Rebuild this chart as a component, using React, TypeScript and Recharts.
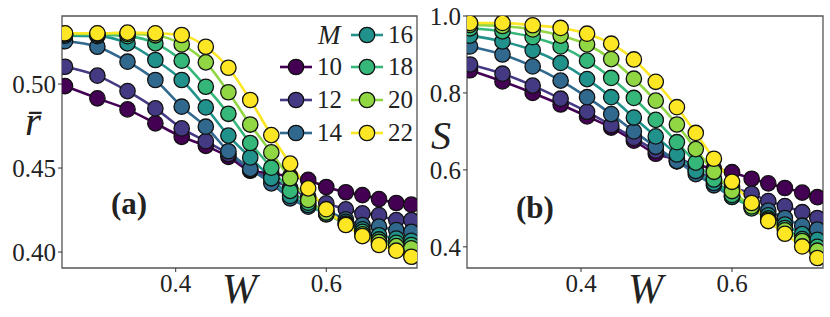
import React from 'react';
import { LineChart, Line, XAxis, YAxis, ReferenceArea } from 'recharts';

// disorder strength W (shared by both panels)
const wValues = [0.253, 0.296, 0.336, 0.373, 0.408, 0.44, 0.47, 0.499, 0.527, 0.552, 0.576, 0.6, 0.626, 0.648, 0.67, 0.693, 0.713];

const mLabels = ['10', '12', '14', '16', '18', '20', '22'];
const colors = ['#440154', '#443983', '#31688e', '#21918c', '#35b779', '#90d743', '#fde725'];

// panel (a): mean gap ratio r-bar
const r10 = [0.4988, 0.4915, 0.4849, 0.4766, 0.4686, 0.4632, 0.4567, 0.4484, 0.4468, 0.445, 0.4429, 0.4387, 0.4356, 0.4339, 0.4315, 0.4292, 0.4282];
const r12 = [0.5103, 0.505, 0.4958, 0.4855, 0.4736, 0.466, 0.4583, 0.4488, 0.4435, 0.438, 0.433, 0.429, 0.4254, 0.423, 0.422, 0.419, 0.419];
const r14 = [0.5255, 0.5222, 0.5133, 0.5024, 0.4865, 0.4746, 0.46, 0.4495, 0.4409, 0.432, 0.427, 0.4245, 0.4195, 0.4161, 0.4151, 0.4131, 0.412];
const r16 = [0.5288, 0.5285, 0.5242, 0.5143, 0.5024, 0.4861, 0.4693, 0.4563, 0.4439, 0.4334, 0.428, 0.4225, 0.418, 0.4135, 0.41, 0.408, 0.4067];
const r18 = [0.5295, 0.5293, 0.5285, 0.5242, 0.5139, 0.4984, 0.4823, 0.4649, 0.4502, 0.4364, 0.4294, 0.4225, 0.417, 0.412, 0.4075, 0.4055, 0.4042];
const r20 = [0.53, 0.53, 0.5298, 0.529, 0.5236, 0.5129, 0.4951, 0.4759, 0.4593, 0.4439, 0.431, 0.4235, 0.4165, 0.4105, 0.406, 0.4035, 0.4022];
const r22 = [0.5302, 0.5302, 0.5306, 0.5302, 0.5292, 0.5222, 0.5097, 0.4905, 0.4696, 0.4526, 0.4379, 0.4255, 0.4161, 0.4095, 0.4042, 0.4008, 0.3972];

// panel (b): S
const s10 = [0.859, 0.83, 0.8, 0.77, 0.739, 0.71, 0.676, 0.642, 0.628, 0.614, 0.603, 0.594, 0.577, 0.565, 0.553, 0.541, 0.529];
const s12 = [0.874, 0.85, 0.819, 0.785, 0.751, 0.716, 0.683, 0.65, 0.622, 0.598, 0.576, 0.556, 0.538, 0.519, 0.506, 0.49, 0.475];
const s14 = [0.921, 0.9, 0.869, 0.832, 0.789, 0.745, 0.7, 0.66, 0.623, 0.589, 0.56, 0.53, 0.51, 0.494, 0.475, 0.455, 0.445];
const s16 = [0.949, 0.934, 0.911, 0.878, 0.836, 0.789, 0.736, 0.687, 0.64, 0.597, 0.566, 0.53, 0.505, 0.482, 0.458, 0.433, 0.418];
const s18 = [0.968, 0.96, 0.945, 0.921, 0.884, 0.839, 0.787, 0.73, 0.672, 0.619, 0.575, 0.535, 0.5, 0.474, 0.449, 0.42, 0.4];
const s20 = [0.977, 0.974, 0.965, 0.949, 0.926, 0.888, 0.837, 0.78, 0.718, 0.654, 0.595, 0.545, 0.505, 0.47, 0.443, 0.415, 0.39];
const s22 = [0.982, 0.982, 0.976, 0.969, 0.954, 0.928, 0.887, 0.829, 0.763, 0.696, 0.629, 0.569, 0.514, 0.467, 0.434, 0.401, 0.371];

const xTicks = [0.4, 0.6];
const rTicks = [0.4, 0.45, 0.5];
const sTicks = [0.4, 0.6, 0.8, 1.0];

const X_DOMAIN: [number, number] = [0.249, 0.7205];
const R_DOMAIN: [number, number] = [0.3905, 0.5405];
const S_DOMAIN: [number, number] = [0.345, 1.0];

const FONT = 'Liberation Serif, serif';

const buildRows = (series: number[][]) =>
  wValues.map((w, i) => {
    const row: Record<string, number> = { w };
    series.forEach((s, k) => {
      row['m' + mLabels[k]] = s[i];
    });
    return row;
  });

const rData = buildRows([r10, r12, r14, r16, r18, r20, r22]);
const sData = buildRows([s10, s12, s14, s16, s18, s20, s22]);

const tickStyle = { fill: '#222', fontSize: 25, fontFamily: FONT };

interface PanelProps {
  data: Record<string, number>[];
  width: number;
  yDomain: [number, number];
  yTicks: number[];
  yWidth: number;
  digits: number;
  marginRight: number;
}

const Panel: React.FC<PanelProps> = ({ data, width, yDomain, yTicks, yWidth, digits, marginRight }) => (
  <LineChart width={width} height={317} data={data} margin={{ top: 16, right: marginRight, left: 0, bottom: 0 }}>
    <XAxis
      dataKey="w"
      type="number"
      domain={X_DOMAIN}
      ticks={xTicks}
      allowDataOverflow
      height={49}
      axisLine={false}
      tickLine={{ stroke: '#333' }}
      tickSize={4}
      tick={tickStyle}
      tickFormatter={(v: number) => v.toFixed(1)}
    />
    <YAxis
      type="number"
      domain={yDomain}
      ticks={yTicks}
      allowDataOverflow
      width={yWidth}
      axisLine={false}
      tickLine={{ stroke: '#333' }}
      tickSize={4}
      tick={tickStyle}
      tickFormatter={(v: number) => v.toFixed(digits)}
    />
    <ReferenceArea
      x1={X_DOMAIN[0]}
      x2={X_DOMAIN[1]}
      y1={yDomain[0]}
      y2={yDomain[1]}
      fill="none"
      stroke="#555"
      strokeWidth={1.3}
      ifOverflow="visible"
    />
    {mLabels.map((m, k) => (
      <Line
        key={m}
        type="monotone"
        dataKey={'m' + m}
        stroke={colors[k]}
        strokeWidth={2.6}
        dot={{ r: 7.7, fill: colors[k], stroke: '#111', strokeWidth: 1.3 }}
        activeDot={false}
        isAnimationActive={false}
      />
    ))}
  </LineChart>
);

const LegendEntry: React.FC<{ k: number; x: number; y: number }> = ({ k, x, y }) => (
  <div style={{ position: 'absolute', left: x, top: y - 17, height: 34, display: 'flex', alignItems: 'center' }}>
    <svg width={34} height={34}>
      <line x1={1} y1={17} x2={33} y2={17} stroke={colors[k]} strokeWidth={2.6} />
      <circle cx={17} cy={17} r={7.7} fill={colors[k]} stroke="#111" strokeWidth={1.3} />
    </svg>
    <span style={{ fontFamily: FONT, fontSize: 25, color: '#222', marginLeft: 4, lineHeight: '34px' }}>{mLabels[k]}</span>
  </div>
);

const textStyle = (extra: React.CSSProperties): React.CSSProperties => ({
  position: 'absolute',
  fontFamily: FONT,
  color: '#222',
  lineHeight: 1,
  whiteSpace: 'nowrap',
  ...extra,
});

export default function App() {
  return (
    <div style={{ position: 'absolute', left: 0, top: 0, width: 830, height: 317, background: '#fff' }}>
      <div style={{ position: 'absolute', left: 0, top: 0 }}>
        <Panel data={rData} width={420} yDomain={R_DOMAIN} yTicks={rTicks} yWidth={62} digits={2} marginRight={3} />
      </div>
      <div style={{ position: 'absolute', left: 420, top: 0 }}>
        <Panel data={sData} width={410} yDomain={S_DOMAIN} yTicks={sTicks} yWidth={47} digits={1} marginRight={7} />
      </div>

      {/* legend for M */}
      <span style={textStyle({ left: 318, top: 22, fontSize: 27, fontStyle: 'italic' })}>M</span>
      <LegendEntry k={0} x={279} y={67} />
      <LegendEntry k={1} x={279} y={100} />
      <LegendEntry k={2} x={279} y={133} />
      <LegendEntry k={3} x={350} y={35} />
      <LegendEntry k={4} x={350} y={67} />
      <LegendEntry k={5} x={350} y={100} />
      <LegendEntry k={6} x={350} y={133} />

      {/* axis labels */}
      <span style={textStyle({ left: 25, top: 101, fontSize: 41, fontStyle: 'italic' })}>r&#772;</span>
      <span style={textStyle({ left: 431, top: 116, fontSize: 40, fontStyle: 'italic' })}>S</span>
      <span style={textStyle({ left: 222, top: 268, fontSize: 42, fontStyle: 'italic' })}>W</span>
      <span style={textStyle({ left: 628, top: 268, fontSize: 42, fontStyle: 'italic' })}>W</span>

      {/* panel tags */}
      <span style={textStyle({ left: 111, top: 188, fontSize: 31, fontWeight: 'bold' })}>(a)</span>
      <span style={textStyle({ left: 516, top: 192, fontSize: 31, fontWeight: 'bold' })}>(b)</span>
    </div>
  );
}
